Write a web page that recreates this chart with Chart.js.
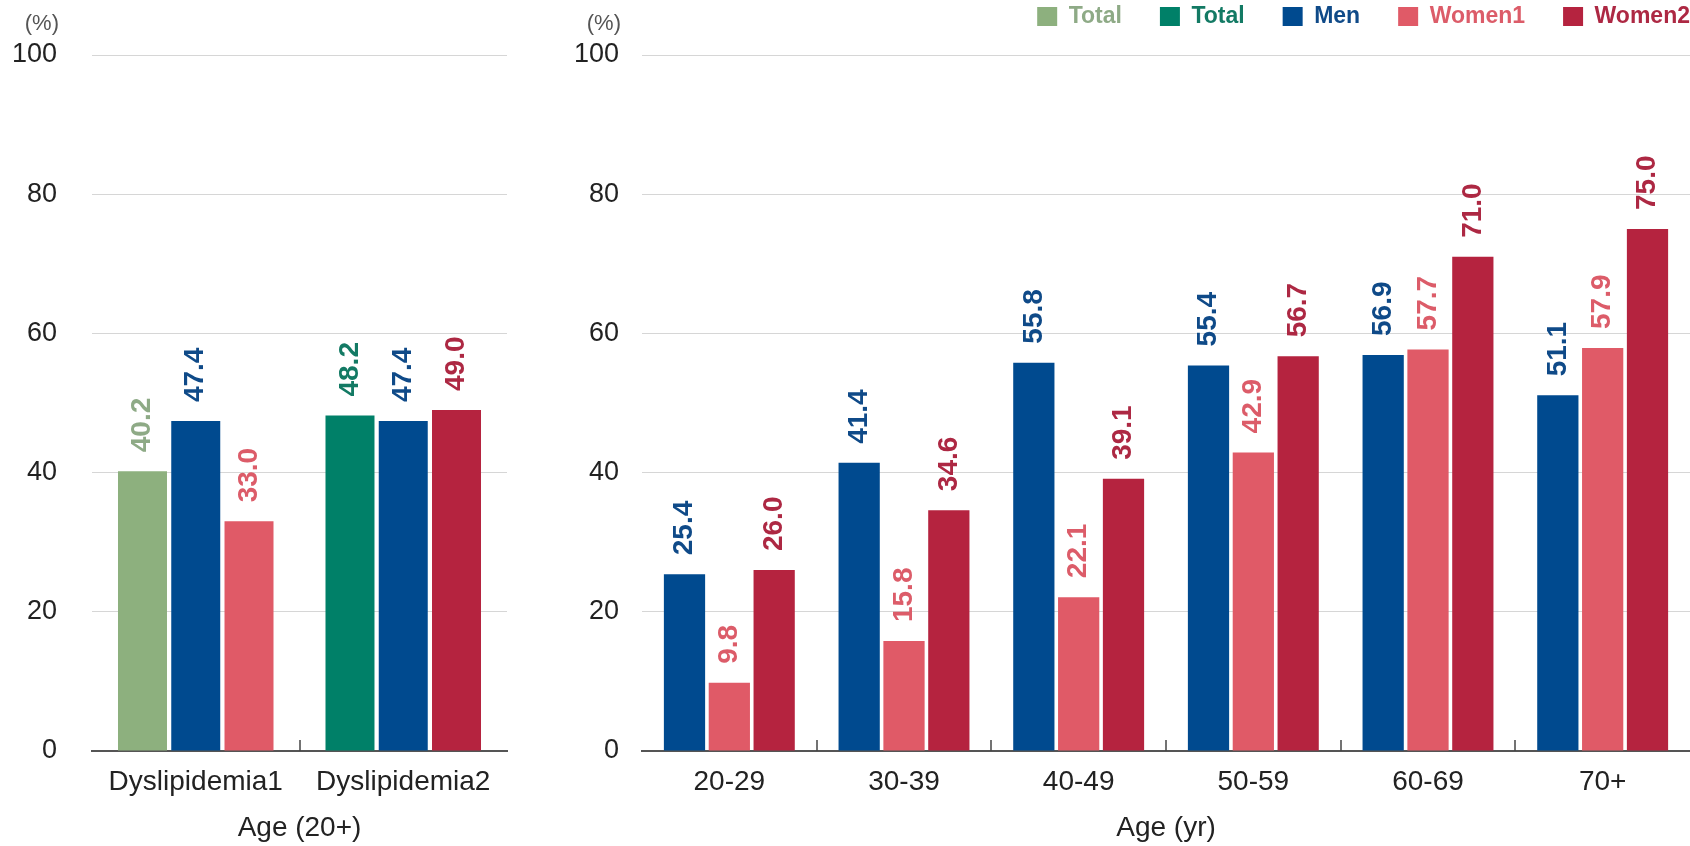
<!DOCTYPE html>
<html>
<head>
<meta charset="utf-8">
<script src="https://cdn.jsdelivr.net/npm/chart.js@4.4.0/dist/chart.umd.min.js"></script>
<style>
  html, body { margin: 0; padding: 0; background: #fff; overflow: hidden; width: 1690px; height: 846px; }
  #overallBox { position: absolute; left: 0; top: 0; width: 520px; height: 846px; }
  #ageBox { position: absolute; left: 560px; top: -33px; width: 1168px; height: 879px; }
</style>
</head>
<body>
<div id="overallBox"><canvas id="overall"></canvas></div>
<div id="ageBox"><canvas id="byAge"></canvas></div>
<script>
// Prevalence of dyslipidemia (%), adults aged 20+
const overallGroups = ['Dyslipidemia1', 'Dyslipidemia2'];
const overallTotal = [40.2, 48.2];
const overallMen = [47.4, 47.4];
const overallWomen = [33.0, 49.0];

// By age group
const ageGroups = ['20-29', '30-39', '40-49', '50-59', '60-69', '70+'];
const ageMen = [25.4, 41.4, 55.8, 55.4, 56.9, 51.1];
const ageWomen1 = [9.8, 15.8, 22.1, 42.9, 57.7, 57.9];
const ageWomen2 = [26.0, 34.6, 39.1, 56.7, 71.0, 75.0];

const yTickValues = [0, 20, 40, 60, 80, 100];
const legendNames = ['Total', 'Total', 'Men', 'Women1', 'Women2'];

const FONT = "'Liberation Sans', Arial, Helvetica, sans-serif";
const BAR = {
  totalLight: '#8db07e', totalTeal: '#008068', men: '#004a8f',
  women1: '#e05a67', women2: '#b5233f'
};
const TEXT = {
  totalLight: '#8eaa86', totalTeal: '#137a64', men: '#0f4a88',
  women1: '#dc5c69', women2: '#ad2843'
};
const legendFill = [BAR.totalLight, BAR.totalTeal, BAR.men, BAR.women1, BAR.women2];
const legendText = [TEXT.totalLight, TEXT.totalTeal, TEXT.men, TEXT.women1, TEXT.women2];

// Rotated value labels above each bar
const valueLabels = {
  id: 'valueLabels',
  afterDatasetsDraw(chart) {
    const ctx = chart.ctx;
    ctx.save();
    ctx.font = `bold 28px ${FONT}`;
    ctx.textAlign = 'left';
    ctx.textBaseline = 'middle';
    chart.data.datasets.forEach((ds, di) => {
      const meta = chart.getDatasetMeta(di);
      meta.data.forEach((bar, i) => {
        const v = ds.data[i];
        if (v == null) return;
        ctx.save();
        ctx.translate(bar.x, bar.y - 19);
        ctx.rotate(-Math.PI / 2);
        ctx.fillStyle = Array.isArray(ds.labelColor) ? ds.labelColor[i] : ds.labelColor;
        ctx.fillText(v.toFixed(1), 0, 0);
        ctx.restore();
      });
    });
    ctx.restore();
  }
};

// Short upward separators between categories on the baseline
const categoryTicks = {
  id: 'categoryTicks',
  afterDatasetsDraw(chart) {
    const x = chart.scales.x;
    const bottom = chart.chartArea.bottom;
    const ctx = chart.ctx;
    ctx.save();
    ctx.strokeStyle = '#444';
    ctx.lineWidth = 1.5;
    for (let i = 1; i < x.ticks.length; i++) {
      const px = Math.round((x.getPixelForTick(i - 1) + x.getPixelForTick(i)) / 2);
      ctx.beginPath();
      ctx.moveTo(px, bottom);
      ctx.lineTo(px, bottom - 11);
      ctx.stroke();
    }
    ctx.restore();
  }
};

// "(%)" unit above the value axis
const unitLabel = {
  id: 'unitLabel',
  afterDraw(chart) {
    const y = chart.scales.y;
    const ctx = chart.ctx;
    ctx.save();
    ctx.font = `22px ${FONT}`;
    ctx.fillStyle = '#555';
    ctx.textAlign = 'right';
    ctx.textBaseline = 'middle';
    ctx.fillText('(%)', y.right - y.options.ticks.padding + 2, y.getPixelForValue(100) - 31);
    ctx.restore();
  }
};

// Extra room between the legend row and the plot
const legendGap = {
  id: 'legendGap',
  beforeInit(chart) {
    const fit = chart.legend.fit;
    chart.legend.fit = function () {
      fit.call(this);
      this.height += 17;
    };
  }
};

function yScale(width, pad) {
  return {
    min: yTickValues[0],
    max: yTickValues[yTickValues.length - 1],
    afterBuildTicks: s => { s.ticks = yTickValues.map(v => ({ value: v })); },
    ticks: { padding: pad, color: '#222', font: { family: FONT, size: 27 } },
    grid: { color: '#d6d6d6', lineWidth: 1, drawTicks: false },
    border: { display: false },
    afterFit: s => { s.width = width; }
  };
}

function xScale(title, padRight) {
  return {
    offset: true,
    grid: { display: false, drawTicks: false },
    border: { display: true, color: '#555', width: 2 },
    ticks: { padding: 14, color: '#222', font: { family: FONT, size: 28 }, maxRotation: 0, autoSkip: false },
    title: { display: true, text: title, color: '#222', font: { family: FONT, size: 28 }, padding: { top: 0, bottom: 1 } },
    afterFit: s => { s.height = 95; s.paddingLeft = 0; s.paddingRight = padRight; }
  };
}

const barShape = { barPercentage: 0.92, categoryPercentage: 0.77 };

new Chart(document.getElementById('overall'), {
  type: 'bar',
  data: {
    labels: overallGroups,
    datasets: [
      { label: 'Total', data: overallTotal, backgroundColor: [BAR.totalLight, BAR.totalTeal], labelColor: [TEXT.totalLight, TEXT.totalTeal] },
      { label: 'Men', data: overallMen, backgroundColor: BAR.men, labelColor: TEXT.men },
      { label: 'Women', data: overallWomen, backgroundColor: [BAR.women1, BAR.women2], labelColor: [TEXT.women1, TEXT.women2] }
    ]
  },
  options: {
    responsive: true,
    maintainAspectRatio: false,
    animation: false,
    layout: { padding: { top: 55, right: 13, left: 0, bottom: 0 } },
    datasets: { bar: barShape },
    plugins: { legend: { display: false }, tooltip: { enabled: false } },
    scales: { x: xScale('Age (20+)', 0), y: yScale(92, 35) }
  },
  plugins: [valueLabels, categoryTicks, unitLabel]
});

new Chart(document.getElementById('byAge'), {
  type: 'bar',
  data: {
    labels: ageGroups,
    datasets: [
      { label: 'Men', data: ageMen, backgroundColor: BAR.men, labelColor: TEXT.men },
      { label: 'Women1', data: ageWomen1, backgroundColor: BAR.women1, labelColor: TEXT.women1 },
      { label: 'Women2', data: ageWomen2, backgroundColor: BAR.women2, labelColor: TEXT.women2 }
    ]
  },
  options: {
    responsive: true,
    maintainAspectRatio: false,
    animation: false,
    layout: { padding: 0 },
    datasets: { bar: barShape },
    plugins: {
      tooltip: { enabled: false },
      legend: {
        display: true,
        position: 'top',
        align: 'end',
        onClick: null,
        labels: {
          boxWidth: 20,
          boxHeight: 19,
          padding: 38,
          font: { family: FONT, size: 23, weight: 'bold' },
          generateLabels: () => legendNames.map((text, i) => ({
            text,
            fillStyle: legendFill[i],
            strokeStyle: legendFill[i],
            lineWidth: 0,
            fontColor: legendText[i],
            hidden: false,
            index: i
          }))
        }
      }
    },
    scales: { x: xScale('Age (yr)', 38), y: yScale(82, 23) }
  },
  plugins: [legendGap, valueLabels, categoryTicks, unitLabel]
});
</script>
</body>
</html>
